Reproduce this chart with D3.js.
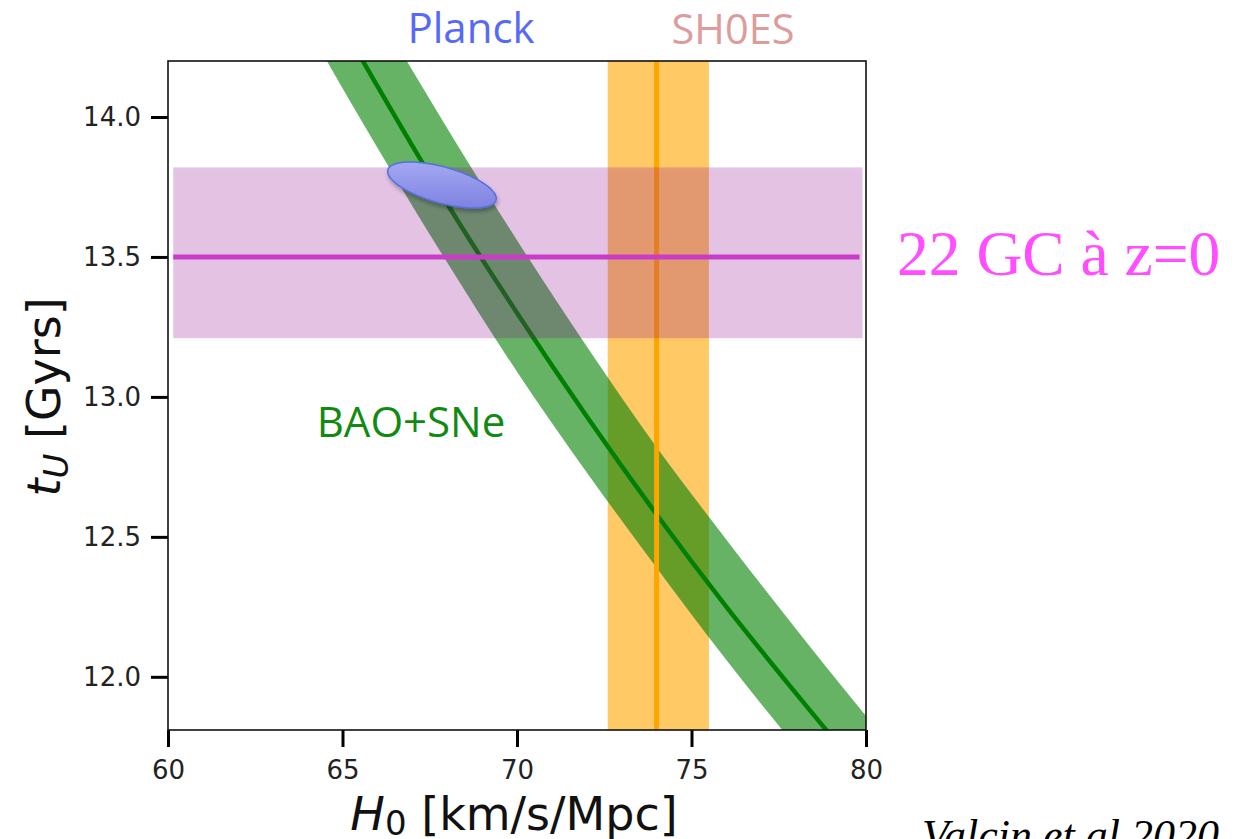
<!DOCTYPE html>
<html>
<head>
<meta charset="utf-8">
<script src="https://cdn.jsdelivr.net/npm/d3@7"></script>
<style>
  body { margin:0; background:#fff; }
  svg { display:block; }
</style>
</head>
<body>
<svg id="chart" width="1239" height="839"></svg>
<script>
// ---- data ----
var xTicks = [60, 65, 70, 75, 80];
var yTicks = [12.0, 12.5, 13.0, 13.5, 14.0];

// BAO+SNe band (t_U vs H0)
var baoH0   = [64, 66, 68, 70, 72, 74, 76, 78, 80];
var baoMid  = [14.55, 14.11, 13.69, 13.30, 12.93, 12.58, 12.25, 11.94, 11.64];
var baoLow  = [14.32, 13.89, 13.48, 13.09, 12.73, 12.39, 12.06, 11.75, 11.46];
var baoHigh = [14.83, 14.38, 13.96, 13.56, 13.18, 12.82, 12.49, 12.17, 11.86];

// SH0ES H0
var shoes = [72.6, 74.0, 75.5];        // low, mid, high
// 22 GC at z=0, age
var gcAge = [13.21, 13.5, 13.82];      // low, mid, high
var gcRange = [60.15, 79.9];           // H0 span of the band
// Planck contour: centre, half major axis, half minor axis (data units)
var planckCentre = [67.85, 13.757];
var planckMajor  = [1.55, -0.054];
var planckMinor  = [-0.138, -0.062];

(function(){
var svg = d3.select("#chart");
var pL=168, pR=866, pT=61, pB=730;

var x = d3.scaleLinear().domain([60, 80]).range([pL, pR]);
var y = d3.scaleLinear().domain([11.81, 14.2]).range([pB, pT]);

var defs = svg.append("defs");
defs.append("clipPath").attr("id","plotClip")
    .append("rect").attr("x",pL).attr("y",pT)
    .attr("width",pR-pL).attr("height",pB-pT);

var grad = defs.append("linearGradient").attr("id","planckGrad")
    .attr("x1","0").attr("y1","0").attr("x2","0").attr("y2","1");
grad.append("stop").attr("offset","0%").attr("stop-color","#a4a8f2");
grad.append("stop").attr("offset","100%").attr("stop-color","#7f82e0");

var shadow = defs.append("filter").attr("id","shadow")
    .attr("x","-20%").attr("y","-20%").attr("width","140%").attr("height","160%");
shadow.append("feDropShadow").attr("dx",1).attr("dy",3).attr("stdDeviation",2)
    .attr("flood-color","#000").attr("flood-opacity",0.3);

var soft = defs.append("filter").attr("id","soft")
    .attr("x","-5%").attr("y","-10%").attr("width","110%").attr("height","125%");
soft.append("feDropShadow").attr("dx",1).attr("dy",2).attr("stdDeviation",1.5)
    .attr("flood-color","#000").attr("flood-opacity",0.12);

var plot = svg.append("g").attr("clip-path","url(#plotClip)");

// SH0ES band
plot.append("rect")
    .attr("x", x(shoes[0])).attr("y", pT)
    .attr("width", x(shoes[2]) - x(shoes[0])).attr("height", pB-pT)
    .attr("fill","#ffa500").attr("fill-opacity",0.6);

// BAO band
var baoPts = baoH0.map(function(h,i){ return {h:h, lo:baoLow[i], hi:baoHigh[i], mid:baoMid[i]}; });
var area = d3.area()
    .x(function(d){ return x(d.h); })
    .y0(function(d){ return y(d.lo); })
    .y1(function(d){ return y(d.hi); })
    .curve(d3.curveMonotoneX);
plot.append("path").datum(baoPts).attr("d", area)
    .attr("fill","#008000").attr("fill-opacity",0.6);

var midLine = d3.line()
    .x(function(d){ return x(d.h); })
    .y(function(d){ return y(d.mid); })
    .curve(d3.curveMonotoneX);
plot.append("path").datum(baoPts).attr("d", midLine)
    .attr("fill","none").attr("stroke","#008000").attr("stroke-width",4.5);

// SH0ES central line
plot.append("line")
    .attr("x1", x(shoes[1])).attr("x2", x(shoes[1]))
    .attr("y1", pT).attr("y2", pB)
    .attr("stroke","#ffa500").attr("stroke-width",5);

// GC band
plot.append("rect")
    .attr("x", x(gcRange[0])).attr("y", y(gcAge[2]))
    .attr("width", x(gcRange[1]) - x(gcRange[0]))
    .attr("height", y(gcAge[0]) - y(gcAge[2]))
    .attr("fill","rgb(140,20,150)").attr("fill-opacity",0.22)
    .attr("filter","url(#soft)");
plot.append("line")
    .attr("x1", x(gcRange[0])).attr("x2", x(gcRange[1]) - 3)
    .attr("y1", y(gcAge[1])).attr("y2", y(gcAge[1]))
    .attr("stroke","#c83cc8").attr("stroke-width",5);

// Planck ellipse
var ell = d3.range(0, 360, 5).map(function(a){
    var t = a*Math.PI/180;
    return [planckCentre[0] + planckMajor[0]*Math.cos(t) + planckMinor[0]*Math.sin(t),
            planckCentre[1] + planckMajor[1]*Math.cos(t) + planckMinor[1]*Math.sin(t)];
});
svg.append("path").datum(ell)
    .attr("d", d3.line().x(function(d){ return x(d[0]); }).y(function(d){ return y(d[1]); }).curve(d3.curveCardinalClosed))
    .attr("fill","url(#planckGrad)")
    .attr("stroke","#5570dc").attr("stroke-width",1.5)
    .attr("filter","url(#shadow)");

// axes
var xAxis = svg.append("g").attr("transform","translate(0,"+pB+")")
    .call(d3.axisBottom(x).tickValues(xTicks).tickSize(17).tickPadding(14).tickFormat(d3.format("d")));
var yAxis = svg.append("g").attr("transform","translate("+pL+",0)")
    .call(d3.axisLeft(y).tickValues(yTicks).tickSize(17).tickPadding(10).tickFormat(d3.format(".1f")));
[xAxis, yAxis].forEach(function(g){
    g.attr("font-size", null).attr("font-family", null);
    g.select(".domain").remove();
    g.selectAll(".tick line").attr("stroke","#000").attr("stroke-width",3);
    g.selectAll(".tick text").attr("fill","#222")
        .style("font-family","DejaVu Sans").style("font-size","26px");
});

// frame
svg.append("rect").attr("x",pL).attr("y",pT)
    .attr("width",pR-pL).attr("height",pB-pT)
    .attr("fill","none").attr("stroke","#111").attr("stroke-width",1.6);

// axis labels
var xl = svg.append("text").attr("x",514).attr("y",830)
    .attr("text-anchor","middle")
    .style("font-family","DejaVu Sans").style("font-size","46px").attr("fill","#111");
xl.append("tspan").style("font-style","italic").text("H");
xl.append("tspan").attr("dy",5).style("font-size","34px").text("0");
xl.append("tspan").attr("dy",-5).text(" [km/s/Mpc]");

var yl = svg.append("text").attr("transform","translate(60,397) rotate(-90)")
    .attr("text-anchor","middle")
    .style("font-family","DejaVu Sans").style("font-size","46px").attr("fill","#111");
yl.append("tspan").style("font-style","italic").text("t");
yl.append("tspan").attr("dy",8).style("font-size","34px").style("font-style","italic").text("U");
yl.append("tspan").attr("dy",-8).text(" [Gyrs]");

// annotations
svg.append("text").attr("x",471).attr("y",43).attr("text-anchor","middle")
    .style("font-family","Open Sans").style("font-size","42px").attr("fill","#566af7").text("Planck");
svg.append("text").attr("x",733).attr("y",44).attr("text-anchor","middle")
    .style("font-family","Open Sans").style("font-size","41.5px").attr("fill","#dc9c9c").text("SH0ES");
svg.append("text").attr("x",411).attr("y",437).attr("text-anchor","middle")
    .style("font-family","Open Sans").style("font-size","42px").attr("fill","#118a11").text("BAO+SNe");
svg.append("text").attr("x",897).attr("y",275)
    .style("font-family","Liberation Serif").style("font-size","63.5px").attr("fill","#ff4dff").text("22 GC à z=0");
svg.append("text").attr("x",922).attr("y",850)
    .style("font-family","Liberation Serif").style("font-style","italic").style("font-size","44px")
    .attr("fill","#000").text("Valcin et al 2020");
})();
</script>
</body>
</html>
